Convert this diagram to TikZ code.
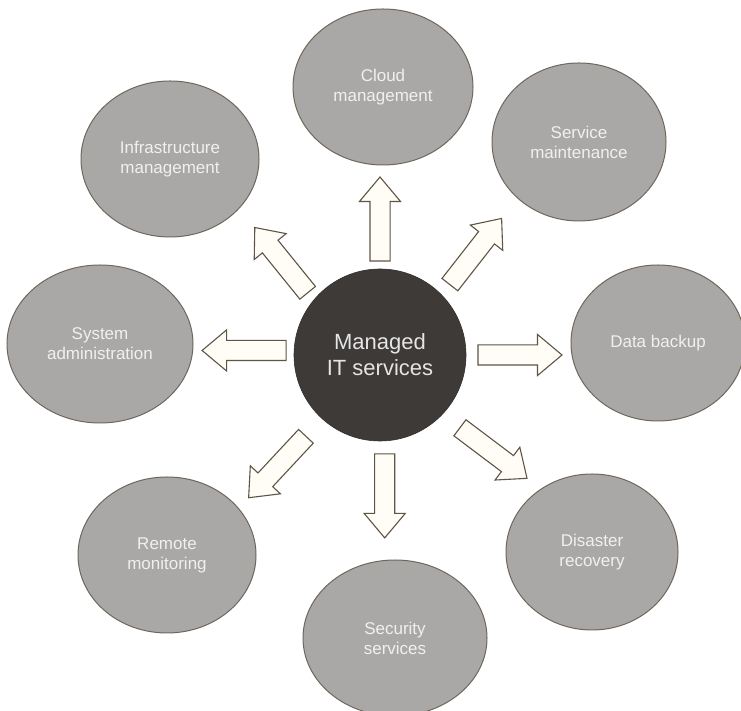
\documentclass[tikz,border=0pt]{standalone}
\usepackage{fontspec}
\setmainfont{Liberation Sans}
\usetikzlibrary{shapes.geometric,shapes.arrows,calc}
\definecolor{coregray}{HTML}{3D3A38}
\definecolor{leafgray}{HTML}{AAA8A7}
\definecolor{leafline}{HTML}{6E675C}
\definecolor{arrowfill}{HTML}{FFFDF6}
\definecolor{arrowline}{HTML}{5E5546}

\begin{document}
\begin{tikzpicture}[x=1pt,y=1pt,
    core/.style={shape=circle, fill=coregray, draw=coregray!80!black, line width=.6pt, text=white!90!black, align=center, inner sep=0pt, minimum size=172pt, font=\fontsize{22}{26}\selectfont},
    leaf/.style={shape=ellipse, fill=leafgray, draw=leafline, line width=1pt, text=white!94!black, align=center, inner sep=0pt, font=\fontsize{17}{20}\selectfont},
    flow/.style={single arrow, fill=arrowfill, draw=arrowline, line width=1.1pt, inner xsep=0pt, inner ysep=9.5pt, minimum height=84pt, single arrow head extend=10.5pt, single arrow tip angle=80},
  ]
  \clip (0,0) rectangle (741,711);
  \fill[white] (0,0) rectangle (741,711);
  % centre
  \node[core] (hub) at (380,356) {Managed\\IT services};
  % services round it
  \node[leaf, minimum width=180pt, minimum height=156pt] (cloud)    at (383,624) {Cloud\\management};
  \node[leaf, minimum width=174pt, minimum height=158pt] (service)  at (579,569) {Service\\maintenance};
  \node[leaf, minimum width=174pt, minimum height=156pt] (backup)   at (658,368) {Data backup};
  \node[leaf, minimum width=172pt, minimum height=156pt] (disaster) at (592,159) {Disaster\\recovery};
  \node[leaf, minimum width=184pt, minimum height=156pt] (security) at (395,73)  {Security\\services};
  \node[leaf, minimum width=178pt, minimum height=156pt] (remote)   at (167,156) {Remote\\monitoring};
  \node[leaf, minimum width=186pt, minimum height=158pt] (sysadmin) at (100,367) {System\\administration};
  \node[leaf, minimum width=178pt, minimum height=156pt] (infra)    at (170,552) {Infrastructure\\management};
  % block arrows
  \foreach \ang/\dist/\rot [count=\i] in {90/130/90, 47/135/52, 0/134/0, -41/144/-37, -88/135/-90, -132.5/146/-133, 178/130/180, 136.5/131/129}
    \node[flow, rotate=\rot] (arrow\i) at ($(hub)+(\ang:\dist)$) {};
\end{tikzpicture}
\end{document}
